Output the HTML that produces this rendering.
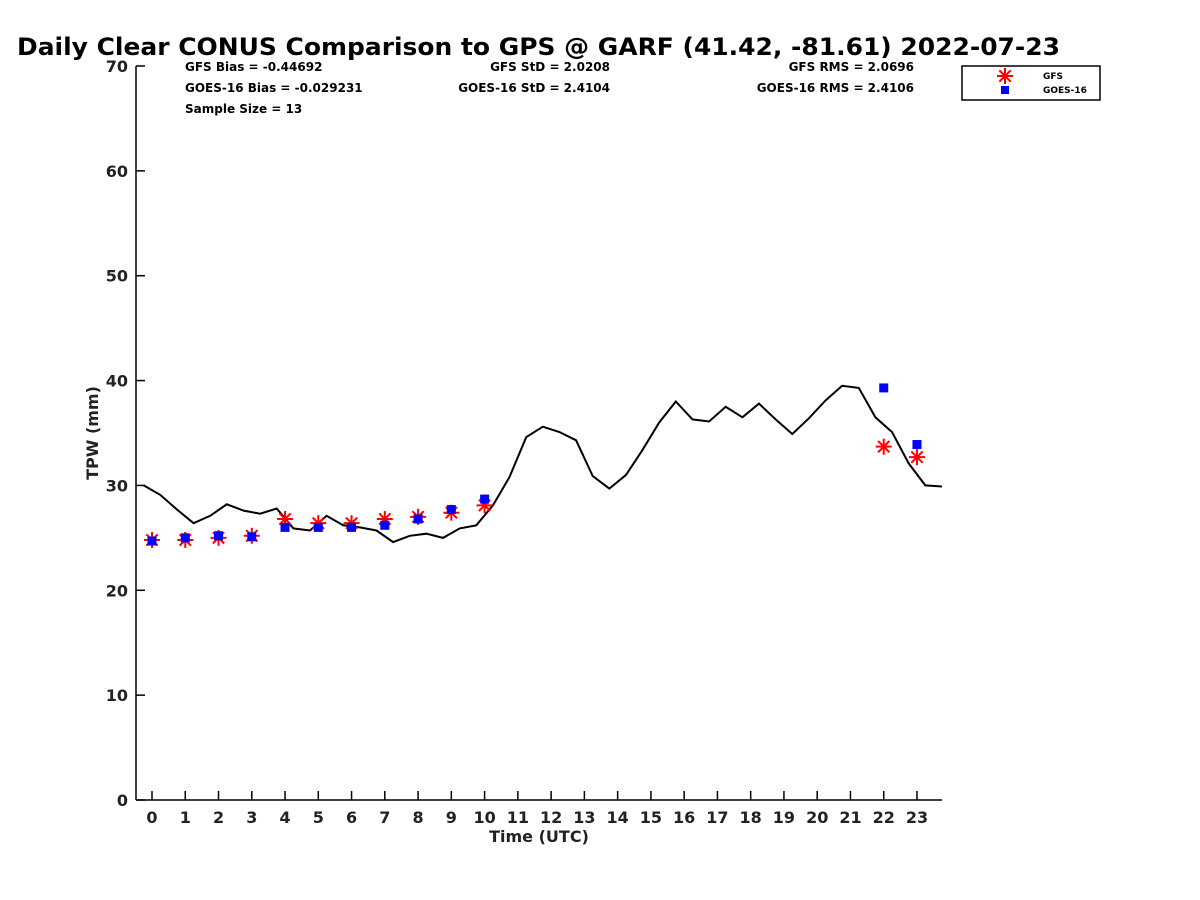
<!DOCTYPE html>
<html><head><meta charset="utf-8"><style>
body{margin:0;background:#fff}
svg{display:block;font-family:"DejaVu Sans","Liberation Sans",sans-serif;font-weight:bold}
</style></head><body>
<svg id="chart" width="1200" height="900">
<text x="17" y="55" font-size="24" textLength="1043" lengthAdjust="spacingAndGlyphs">Daily Clear CONUS Comparison to GPS @ GARF (41.42, -81.61) 2022-07-23</text>
<g font-size="12">
<text x="185" y="71">GFS Bias = -0.44692</text>
<text x="185" y="92">GOES-16 Bias = -0.029231</text>
<text x="185" y="113">Sample Size = 13</text>
<text x="610" y="71" text-anchor="end">GFS StD = 2.0208</text>
<text x="610" y="92" text-anchor="end">GOES-16 StD = 2.4104</text>
<text x="914" y="71" text-anchor="end">GFS RMS = 2.0696</text>
<text x="914" y="92" text-anchor="end">GOES-16 RMS = 2.4106</text>
</g>
<g id="axes"></g>
<g id="marks"></g>
<g>
<rect x="962" y="66" width="138" height="34" fill="#fff" stroke="#000" stroke-width="1.5"/>
<g stroke="#f00" stroke-width="2">
<line x1="997" y1="76" x2="1013" y2="76"/><line x1="1005" y1="68" x2="1005" y2="84"/>
<line x1="999.3" y1="70.3" x2="1010.7" y2="81.7"/><line x1="999.3" y1="81.7" x2="1010.7" y2="70.3"/>
</g>
<text x="1043" y="79" font-size="9">GFS</text>
<rect x="1001" y="86" width="8" height="8" fill="#00f"/>
<text x="1043" y="93" font-size="9">GOES-16</text>
</g>
</svg>
<script>
const gpsHours=[-0.25,0.25,0.75,1.25,1.75,2.25,2.75,3.25,3.75,4.25,4.75,5.25,5.75,6.25,6.75,7.25,7.75,8.25,8.75,9.25,9.75,10.25,10.75,11.25,11.75,12.25,12.75,13.25,13.75,14.25,14.75,15.25,15.75,16.25,16.75,17.25,17.75,18.25,18.75,19.25,19.75,20.25,20.75,21.25,21.75,22.25,22.75,23.25,23.75];
const gpsValues=[30.0,29.1,27.7,26.4,27.1,28.2,27.6,27.3,27.8,25.9,25.7,27.1,26.2,26.0,25.7,24.6,25.2,25.4,25.0,25.9,26.2,28.1,30.8,34.6,35.6,35.1,34.3,30.9,29.7,31.0,33.4,36.0,38.0,36.3,36.1,37.5,36.5,37.8,36.3,34.9,36.4,38.1,39.5,39.3,36.5,35.1,32.1,30.0,29.9];
const obsHours=[0,1,2,3,4,5,6,7,8,9,10,22,23];
const gfsValues=[24.8,24.8,25.0,25.2,26.8,26.4,26.4,26.8,27.0,27.4,28.1,33.7,32.7];
const goesValues=[24.7,25.0,25.2,25.1,26.0,26.0,26.0,26.2,26.8,27.7,28.7,39.3,33.9];
const xTicks=[0,1,2,3,4,5,6,7,8,9,10,11,12,13,14,15,16,17,18,19,20,21,22,23];
const yTicks=[0,10,20,30,40,50,60,70];

const NS="http://www.w3.org/2000/svg";
const X=h=>152+(h)*33.26;
const Y=v=>800-v*(734/70);
function mk(tag,attrs,parent,text){const e=document.createElementNS(NS,tag);for(const k in attrs)e.setAttribute(k,attrs[k]);if(text!==undefined)e.textContent=text;parent.appendChild(e);return e;}
const ax=document.getElementById('axes'), mg=document.getElementById('marks');
let l=mk('line',{x1:136,y1:66,x2:136,y2:800,stroke:'#000','stroke-width':1.5},ax);


l=mk('line',{x1:136,y1:800,x2:942,y2:800,stroke:'#000','stroke-width':1.5},ax);


yTicks.forEach(v=>{
  mk('line',{x1:136,y1:Y(v),x2:145,y2:Y(v),stroke:'#000','stroke-width':1.5},ax);
  const t=mk('text',{x:128,y:Y(v)+6,'font-size':16,'text-anchor':'end',fill:'#222'},ax,String(v));
  
  
});
xTicks.forEach(v=>{
  mk('line',{x1:X(v),y1:800,x2:X(v),y2:791,stroke:'#000','stroke-width':1.5},ax);
  const t=mk('text',{x:X(v),y:823,'font-size':16,'text-anchor':'middle',fill:'#222'},ax,String(v));
  
  
});
let t=mk('text',{x:539,y:842,'font-size':16,'text-anchor':'middle',fill:'#222'},ax,'Time (UTC)');


t=mk('text',{x:0,y:0,'font-size':16,'text-anchor':'middle',fill:'#222',transform:'translate(98,433) rotate(-90)'},ax,'TPW (mm)');


const pts=gpsHours.map((h,i)=>X(h).toFixed(1)+','+Y(gpsValues[i]).toFixed(1)).join(' ');
const pl=mk('polyline',{points:pts,fill:'none',stroke:'#000','stroke-width':2},mg);


obsHours.forEach((h,i)=>{
  const cx=X(h),cy=Y(gfsValues[i]);
  const g=mk('g',{stroke:'#f00','stroke-width':2},mg);
  
  
  for(let a=0;a<4;a++){const an=a*Math.PI/4;mk('line',{x1:cx-8*Math.cos(an),y1:cy-8*Math.sin(an),x2:cx+8*Math.cos(an),y2:cy+8*Math.sin(an)},g);}
});
obsHours.forEach((h,i)=>{
  const r=mk('rect',{x:X(h)-4.5,y:Y(goesValues[i])-4.5,width:9,height:9,fill:'#00f'},mg);
  
  
});
</script>
</body></html>
